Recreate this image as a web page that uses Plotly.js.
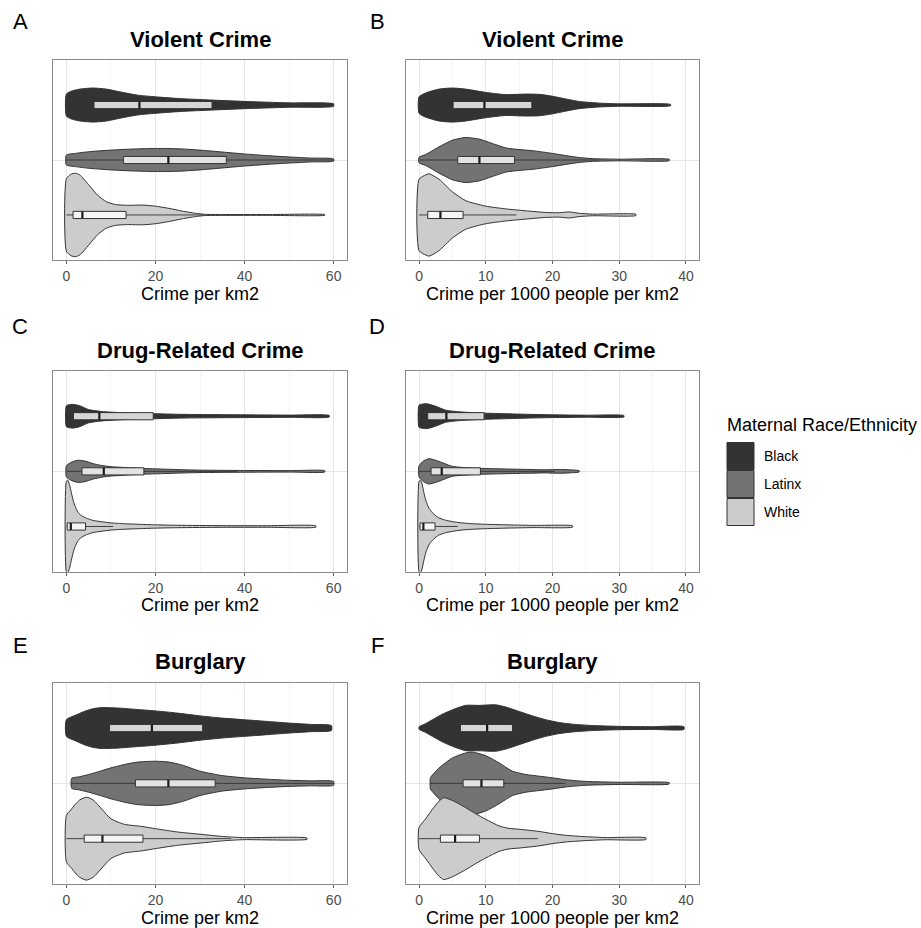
<!DOCTYPE html>
<html>
<head>
<meta charset="utf-8">
<script src="https://cdn.plot.ly/plotly-3.0.1.min.js"></script>
<style>html,body{margin:0;padding:0;background:#fff;}#chart{width:921px;height:928px;}</style>
</head>
<body>
<div id="chart"></div>
<script>
// ---------- categories & labels ----------
const groups = ['Black', 'Latinx', 'White'];
const groupPos = [3, 2, 1];
const groupFill = ['#333333', '#737373', '#cccccc'];
const panelLetters = ['A', 'B', 'C', 'D', 'E', 'F'];
const panelTitles = ['Violent Crime', 'Violent Crime', 'Drug-Related Crime', 'Drug-Related Crime', 'Burglary', 'Burglary'];
const axisTitles = ['Crime per km2', 'Crime per 1000 people per km2', 'Crime per km2', 'Crime per 1000 people per km2', 'Crime per km2', 'Crime per 1000 people per km2'];
const ticksKm2 = [0, 20, 40, 60];
const ticksPop = [0, 10, 20, 30, 40];
const legendTitle = 'Maternal Race/Ethnicity';

// ---------- violin density profiles (value, half-width in category units) ----------
// A: Violent crime per km2
const A_Black_x = [0, 1, 3, 6, 9, 12, 16, 20, 25, 30, 40, 50, 60];
const A_Black_w = [0.20, 0.25, 0.29, 0.31, 0.29, 0.24, 0.18, 0.15, 0.12, 0.10, 0.066, 0.04, 0.022];
const A_Latinx_x = [0, 2, 5, 10, 15, 20, 25, 30, 35, 40, 45, 50, 55, 60];
const A_Latinx_w = [0.09, 0.12, 0.15, 0.18, 0.20, 0.21, 0.205, 0.18, 0.145, 0.11, 0.08, 0.055, 0.035, 0.02];
const A_White_x = [0, 1, 2, 3, 5, 7, 9, 11, 14, 17, 20, 23, 26, 29, 31, 35, 45, 58];
const A_White_w = [0.66, 0.74, 0.76, 0.73, 0.55, 0.36, 0.24, 0.19, 0.175, 0.18, 0.16, 0.12, 0.07, 0.03, 0.012, 0.008, 0.007, 0.006];
// B: Violent crime per 1000 people per km2
const B_Black_x = [0, 1, 3, 5, 7, 10, 13, 16, 18, 20, 22, 24, 27, 30, 37.7];
const B_Black_w = [0.15, 0.22, 0.29, 0.31, 0.29, 0.23, 0.19, 0.2, 0.195, 0.16, 0.11, 0.065, 0.035, 0.022, 0.012];
const B_Latinx_x = [0, 1, 3, 5, 7, 9, 11, 13, 15, 17, 20, 22, 24, 26, 30, 37.5];
const B_Latinx_w = [0.05, 0.1, 0.24, 0.36, 0.41, 0.38, 0.3, 0.22, 0.19, 0.17, 0.12, 0.08, 0.045, 0.025, 0.015, 0.012];
const B_White_x = [0, 1, 1.5, 3, 5, 7, 10, 13, 16, 19, 21, 22.5, 24, 26, 32.5];
const B_White_w = [0.65, 0.73, 0.75, 0.65, 0.42, 0.26, 0.16, 0.11, 0.075, 0.045, 0.04, 0.055, 0.03, 0.015, 0.012];
// C: Drug-related crime per km2
const C_Black_x = [0, 0.7, 1.5, 3, 5, 8, 12, 16, 20, 25, 30, 40, 50, 59];
const C_Black_w = [0.19, 0.21, 0.215, 0.19, 0.12, 0.085, 0.065, 0.05, 0.045, 0.035, 0.03, 0.025, 0.02, 0.015];
const C_Latinx_x = [0, 1, 2.5, 4, 6, 8, 10, 12, 15, 18, 22, 26, 30, 40, 50, 58];
const C_Latinx_w = [0.1, 0.16, 0.2, 0.19, 0.14, 0.105, 0.085, 0.075, 0.06, 0.05, 0.04, 0.03, 0.022, 0.016, 0.013, 0.012];
const C_White_x = [0, 0.3, 0.7, 1.1, 1.6, 2.2, 2.8, 3.5, 4.5, 6, 8, 10, 13, 16, 20, 25, 35, 45, 56];
const C_White_w = [0.82, 0.84, 0.76, 0.62, 0.45, 0.32, 0.24, 0.19, 0.15, 0.11, 0.085, 0.065, 0.05, 0.04, 0.03, 0.022, 0.015, 0.014, 0.012];
// D: Drug-related crime per 1000 people per km2
const D_Black_x = [0, 0.5, 1.2, 2.5, 4, 6, 8, 10, 13, 16, 20, 25, 30.7];
const D_Black_w = [0.2, 0.22, 0.225, 0.18, 0.11, 0.08, 0.065, 0.055, 0.045, 0.035, 0.025, 0.018, 0.013];
const D_Latinx_x = [0, 0.7, 1.5, 3, 5, 8, 12, 16, 19, 21, 23, 24];
const D_Latinx_w = [0.1, 0.19, 0.23, 0.18, 0.09, 0.06, 0.045, 0.035, 0.028, 0.035, 0.025, 0.012];
const D_White_x = [0, 0.2, 0.45, 0.75, 1.05, 1.5, 2, 2.9, 4.1, 6, 8, 10, 13, 17, 23];
const D_White_w = [0.82, 0.84, 0.77, 0.6, 0.46, 0.33, 0.25, 0.16, 0.11, 0.07, 0.05, 0.04, 0.03, 0.02, 0.012];
// E: Burglary per km2
const E_Black_x = [0, 2, 4, 6, 8, 12, 16, 20, 25, 30, 35, 40, 45, 50, 55, 59.5];
const E_Black_w = [0.15, 0.23, 0.3, 0.35, 0.37, 0.36, 0.335, 0.31, 0.27, 0.22, 0.18, 0.15, 0.12, 0.09, 0.065, 0.045];
const E_Latinx_x = [1.2, 3, 5, 8, 10, 13, 16, 20, 23, 26, 30, 35, 40, 45, 50, 55, 60];
const E_Latinx_w = [0.09, 0.12, 0.16, 0.23, 0.28, 0.34, 0.385, 0.4, 0.385, 0.33, 0.22, 0.14, 0.1, 0.075, 0.055, 0.045, 0.035];
const E_White_x = [0, 1, 2, 3, 4.5, 6, 8, 10, 13, 17, 20, 25, 30, 35, 38, 40, 54];
const E_White_w = [0.42, 0.52, 0.62, 0.7, 0.75, 0.7, 0.53, 0.36, 0.26, 0.22, 0.18, 0.12, 0.08, 0.04, 0.025, 0.018, 0.012];
// F: Burglary per 1000 people per km2
const F_Black_x = [0, 1, 2, 3.5, 5, 7, 9, 11.5, 13, 15, 17, 19, 21, 23, 26, 30, 35, 39.7];
const F_Black_w = [0.02, 0.08, 0.15, 0.25, 0.33, 0.41, 0.41, 0.42, 0.38, 0.3, 0.22, 0.15, 0.1, 0.07, 0.045, 0.03, 0.025, 0.025];
const F_Latinx_x = [1.7, 2, 3, 5, 7, 8, 10, 12, 14, 16, 18, 20, 22, 25, 30, 37.5];
const F_Latinx_w = [0.1, 0.15, 0.28, 0.46, 0.55, 0.565, 0.5, 0.37, 0.22, 0.16, 0.13, 0.1, 0.065, 0.035, 0.02, 0.012];
const F_White_x = [0, 1, 2, 3, 3.7, 5, 7, 8.5, 10, 12, 13.5, 15, 18, 20, 22, 25, 28, 34];
const F_White_w = [0.2, 0.36, 0.53, 0.68, 0.74, 0.69, 0.56, 0.45, 0.35, 0.23, 0.185, 0.17, 0.13, 0.09, 0.06, 0.035, 0.02, 0.015];

// ---------- box statistics (order: Black, Latinx, White) ----------
const A_q1 = [6.2, 12.8, 1.5],  A_med = [16.4, 22.9, 3.6],  A_q3 = [32.7, 35.9, 13.4], A_lo = [0, 0, 0],     A_hi = [60, 60, 31];
const B_q1 = [5.1, 5.8, 1.3],   B_med = [9.8, 9.05, 3.2],   B_q3 = [16.9, 14.3, 6.6],  B_lo = [0, 0, 0],     B_hi = [34.6, 27, 14.6];
const C_q1 = [1.6, 3.5, 0.2],   C_med = [7.4, 8.4, 1.0],    C_q3 = [19.5, 17.4, 4.3],  C_lo = [0, 0, 0],     C_hi = [46.3, 38.3, 10.5];
const D_q1 = [1.3, 1.8, 0.15],  D_med = [4.1, 3.4, 0.65],   D_q3 = [9.75, 9.2, 2.4],   D_lo = [0, 0, 0],     D_hi = [22.4, 20.3, 5.8];
const E_q1 = [9.7, 15.5, 4.0],  E_med = [19.2, 22.9, 8.1],  E_q3 = [30.6, 33.4, 17.2], E_lo = [0, 1.2, 0],   E_hi = [59.5, 60, 37];
const F_q1 = [6.2, 6.6, 3.2],   F_med = [10.2, 9.35, 5.4],  F_q3 = [14.0, 12.7, 9.05], F_lo = [0, 1.7, 0],   F_hi = [25.7, 21.9, 17.8];

// ---------- assemble ----------
const profiles = [
  [[A_Black_x, A_Black_w], [A_Latinx_x, A_Latinx_w], [A_White_x, A_White_w]],
  [[B_Black_x, B_Black_w], [B_Latinx_x, B_Latinx_w], [B_White_x, B_White_w]],
  [[C_Black_x, C_Black_w], [C_Latinx_x, C_Latinx_w], [C_White_x, C_White_w]],
  [[D_Black_x, D_Black_w], [D_Latinx_x, D_Latinx_w], [D_White_x, D_White_w]],
  [[E_Black_x, E_Black_w], [E_Latinx_x, E_Latinx_w], [E_White_x, E_White_w]],
  [[F_Black_x, F_Black_w], [F_Latinx_x, F_Latinx_w], [F_White_x, F_White_w]]
];
const boxes = [
  [A_q1, A_med, A_q3, A_lo, A_hi], [B_q1, B_med, B_q3, B_lo, B_hi],
  [C_q1, C_med, C_q3, C_lo, C_hi], [D_q1, D_med, D_q3, D_lo, D_hi],
  [E_q1, E_med, E_q3, E_lo, E_hi], [F_q1, F_med, F_q3, F_lo, F_hi]
];

const W = 921, H = 928;
const px = v => v / W, py = v => 1 - v / H;
const FONT = 'Liberation Sans, Arial, Helvetica, sans-serif';
const colX = [[53, 347], [405.7, 699.3]];
const rowY = [[60, 260], [371, 571.7], [682.7, 884]];
const titleY = [39, 350, 661.5];
const letterY = [22, 327, 645];
const letterX = [20, 377];
const boxHalf = 0.065;
const outline = '#333333';

const traces = [];
const layout = {
  width: W, height: H,
  margin: {l: 0, r: 0, t: 0, b: 0},
  paper_bgcolor: '#ffffff', plot_bgcolor: '#ffffff',
  showlegend: false,
  font: {family: FONT, color: '#000'},
  annotations: [], shapes: []
};

for (let p = 0; p < 6; p++) {
  const n = p + 1;
  const xa = 'x' + (n === 1 ? '' : n), ya = 'y' + (n === 1 ? '' : n);
  const col = p % 2, row = Math.floor(p / 2);
  const isKm2 = col === 0;
  // violins
  for (let g = 0; g < 3; g++) {
    const [xs, ws] = profiles[p][g];
    const c = groupPos[g];
    const rx = xs.slice().reverse(), rw = ws.slice().reverse();
    traces.push({
      type: 'scatter', mode: 'lines', xaxis: xa, yaxis: ya,
      x: xs.concat(rx, [xs[0]]),
      y: ws.map(w => c + w).concat(rw.map(w => c - w), [c + ws[0]]),
      fill: 'toself', fillcolor: groupFill[g],
      line: {color: outline, width: 1, shape: 'spline', smoothing: 0.6},
      hoverinfo: 'skip', showlegend: false
    });
  }
  // boxes
  const [q1, med, q3, lo, hi] = boxes[p];
  for (let g = 0; g < 3; g++) {
    const c = groupPos[g];
    traces.push({
      type: 'scatter', mode: 'lines', xaxis: xa, yaxis: ya,
      x: [lo[g], q1[g], null, q3[g], hi[g]], y: [c, c, null, c, c],
      line: {color: outline, width: 0.9}, hoverinfo: 'skip', showlegend: false
    });
    traces.push({
      type: 'scatter', mode: 'lines', xaxis: xa, yaxis: ya,
      x: [q1[g], q3[g], q3[g], q1[g], q1[g]],
      y: [c - boxHalf, c - boxHalf, c + boxHalf, c + boxHalf, c - boxHalf],
      fill: 'toself', fillcolor: 'rgba(255,255,255,0.8)',
      line: {color: outline, width: 1}, hoverinfo: 'skip', showlegend: false
    });
    traces.push({
      type: 'scatter', mode: 'lines', xaxis: xa, yaxis: ya,
      x: [med[g], med[g]], y: [c - boxHalf, c + boxHalf],
      line: {color: '#1a1a1a', width: 2.2}, hoverinfo: 'skip', showlegend: false
    });
  }
  // axes
  layout['xaxis' + (n === 1 ? '' : n)] = {
    domain: [px(colX[col][0]), px(colX[col][1])],
    anchor: ya,
    range: isKm2 ? [-3, 63] : [-2, 42],
    tickvals: isKm2 ? ticksKm2 : ticksPop,
    ticktext: (isKm2 ? ticksKm2 : ticksPop).map(String),
    tickmode: 'array',
    ticks: 'outside', ticklen: 3, tickwidth: 0.8, tickcolor: '#333333',
    tickfont: {family: FONT, size: 14, color: '#4d4d4d'},
    showgrid: true, gridcolor: '#e6e6e6', gridwidth: 1,
    minor: {dtick: isKm2 ? 10 : 5, tick0: 0, showgrid: true, gridcolor: '#efefef', gridwidth: 0.7, ticks: ''},
    zeroline: false,
    showline: true, mirror: true, linecolor: '#8a8a8a', linewidth: 1,
    title: {text: axisTitles[p], font: {family: FONT, size: 18, color: '#000'}, standoff: 1},
    automargin: false, fixedrange: true
  };
  layout['yaxis' + (n === 1 ? '' : n)] = {
    domain: [py(rowY[row][1]), py(rowY[row][0])],
    anchor: xa,
    range: [0.18, 3.82],
    tickmode: 'array', tickvals: [groupPos[1]], ticktext: [groups[1]],
    showticklabels: false, ticks: '',
    showgrid: true, gridcolor: '#e6e6e6', gridwidth: 1,
    zeroline: false,
    showline: true, mirror: true, linecolor: '#8a8a8a', linewidth: 1,
    automargin: false, fixedrange: true
  };
  // panel title & letter
  layout.annotations.push({
    xref: 'paper', yref: 'paper',
    x: px((colX[col][0] + colX[col][1]) / 2), y: py(titleY[row]),
    xanchor: 'center', yanchor: 'middle', showarrow: false,
    text: '<b>' + panelTitles[p] + '</b>',
    font: {family: FONT, size: 22, color: '#000'}
  });
  layout.annotations.push({
    xref: 'paper', yref: 'paper',
    x: px(letterX[col]), y: py(letterY[row]),
    xanchor: 'center', yanchor: 'middle', showarrow: false,
    text: panelLetters[p],
    font: {family: FONT, size: 22, color: '#000'}
  });
}

// legend (drawn manually as ggplot-style keys)
layout.annotations.push({
  xref: 'paper', yref: 'paper', x: px(725), y: py(425),
  xanchor: 'left', yanchor: 'middle', showarrow: false,
  text: legendTitle, font: {family: FONT, size: 18, color: '#000'}
});
const keyTop = 442, keySize = 28;
for (let g = 0; g < 3; g++) {
  const t = keyTop + g * keySize;
  layout.shapes.push({
    type: 'rect', xref: 'paper', yref: 'paper',
    x0: px(727), x1: px(754), y0: py(t + keySize - 0.5), y1: py(t + 0.5),
    fillcolor: groupFill[g], line: {color: outline, width: 1}
  });
  layout.annotations.push({
    xref: 'paper', yref: 'paper', x: px(762), y: py(t + keySize / 2),
    xanchor: 'left', yanchor: 'middle', showarrow: false,
    text: groups[g], font: {family: FONT, size: 14, color: '#000'}
  });
}

Plotly.newPlot('chart', traces, layout, {staticPlot: true, displayModeBar: false});
</script>
</body>
</html>
